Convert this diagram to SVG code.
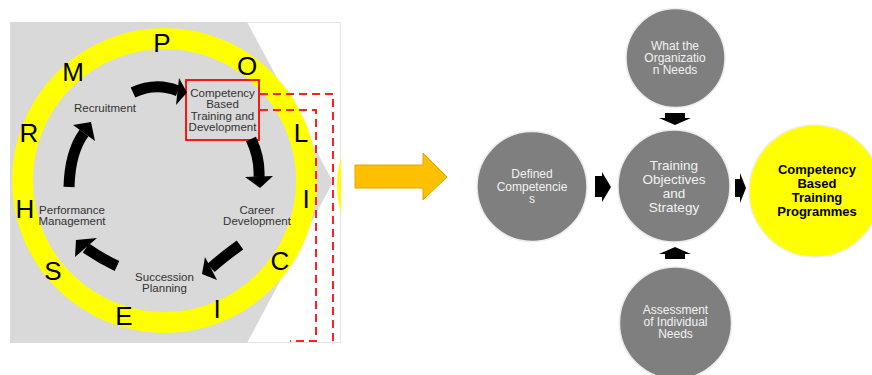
<svg xmlns="http://www.w3.org/2000/svg" width="872" height="375" viewBox="0 0 872 375">
  <defs>
    <style>
      .lbl{font-family:"Liberation Sans",Arial,sans-serif;font-size:11.5px;fill:#333;text-anchor:middle}
      .ltr{font-family:"Liberation Sans",Arial,sans-serif;font-size:26px;fill:#000;text-anchor:middle}
      .shaft{fill:none;stroke:#000;stroke-width:11}
      .head{fill:#000}
      .gc{fill:#7f7f7f;stroke:#ececec;stroke-width:1.5}
      .wt{font-family:"Liberation Sans",Arial,sans-serif;fill:#f2f2f2;text-anchor:middle}
      .bt{font-family:"Liberation Sans",Arial,sans-serif;font-weight:bold;font-size:13px;fill:#000;text-anchor:middle}
      .dash{fill:none;stroke:#ff2020;stroke-width:2;stroke-dasharray:8 5}
      .blk{fill:#000}
    </style>
    <clipPath id="panelClip"><rect x="10" y="22" width="331" height="321"/></clipPath>
  </defs>

  <rect width="872" height="375" fill="#fff"/>

  <!-- left panel: HR policy cycle -->
  <g id="policy-panel">
    <rect x="10.5" y="22.5" width="330" height="320" fill="#fff" stroke="#e4e4e4"/>
    <polygon points="10,22 247,22 333,182 247,343 10,343" fill="#d9d9d9"/>
    <g clip-path="url(#panelClip)"><circle cx="437" cy="185" r="100" fill="#ffff00"/></g>
    <circle cx="164.5" cy="180.5" r="142" fill="#d9d9d9" stroke="#ffff00" stroke-width="21"/>
    <g id="ring-letters">
      <text class="ltr" x="162" y="52">P</text>
      <text class="ltr" x="247" y="75">O</text>
      <text class="ltr" x="301" y="142">L</text>
      <text class="ltr" x="306" y="208">I</text>
      <text class="ltr" x="280" y="270">C</text>
      <text class="ltr" x="217" y="318">I</text>
      <text class="ltr" x="124" y="325">E</text>
      <text class="ltr" x="53" y="280">S</text>
      <text class="ltr" x="25" y="218">H</text>
      <text class="ltr" x="29" y="142">R</text>
      <text class="ltr" x="73" y="81">M</text>
    </g>
  </g>

  <g id="node-recruitment"><text class="lbl" x="105" y="112">Recruitment</text></g>
  <g id="node-cbtd">
    <rect x="186" y="80" width="73" height="60" fill="none" stroke="#ff0000" stroke-width="1.8"/>
    <text class="lbl" x="222.5" y="97">Competency</text>
    <text class="lbl" x="222.5" y="108">Based</text>
    <text class="lbl" x="222.5" y="119.5">Training and</text>
    <text class="lbl" x="222.5" y="131">Development</text>
  </g>
  <g id="node-career">
    <text class="lbl" x="257" y="214">Career</text>
    <text class="lbl" x="257" y="225">Development</text>
  </g>
  <g id="node-succession">
    <text class="lbl" x="164.5" y="281">Succession</text>
    <text class="lbl" x="164.5" y="292">Planning</text>
  </g>
  <g id="node-performance">
    <text class="lbl" x="72" y="214">Performance</text>
    <text class="lbl" x="72" y="225">Management</text>
  </g>

  <!-- cycle arrows and callout lines -->
  <g id="cycle-connectors">
    <path class="shaft" d="M133,92.5 Q156,82 178,91"/>
    <polygon class="head" points="179,78 187,92.5 176,105"/>
    <path class="shaft" d="M251,139 Q260,158 259,177"/>
    <polygon class="head" points="245,177 273,176 260,188"/>
    <path class="shaft" d="M240,245 Q222,258 211,268"/>
    <polygon class="head" points="205,257 217,280 202,274"/>
    <path class="shaft" d="M117,266 Q100,258 86,248"/>
    <polygon class="head" points="97,238 75,257 76,240"/>
    <path class="shaft" d="M69,187 Q70,152 84,133"/>
    <polygon class="head" points="73,125 95,141 91,122"/>
    <path class="dash" d="M260,94 H333 V342"/>
    <path class="dash" d="M260,110 H316 V341 H290"/>
  </g>

  <!-- transition arrow -->
  <g id="transition-arrow">
    <polygon points="355,165 423,165 423,153 447,177 423,200 423,188 355,188" fill="#ffc000" stroke="#e0a600" stroke-width="1"/>
  </g>

  <!-- right panel: training programme design -->
  <g id="node-org-needs">
    <circle class="gc" cx="675.5" cy="58" r="49.5"/>
    <text class="wt" font-size="12" x="675" y="49.5">What the</text>
    <text class="wt" font-size="12" x="675" y="61.5">Organizatio</text>
    <text class="wt" font-size="12" x="675" y="74">n Needs</text>
  </g>
  <g id="node-objectives">
    <circle class="gc" cx="674" cy="186" r="56"/>
    <text class="wt" font-size="13.5" x="674" y="170">Training</text>
    <text class="wt" font-size="13.5" x="674" y="184">Objectives</text>
    <text class="wt" font-size="13.5" x="674" y="198">and</text>
    <text class="wt" font-size="13.5" x="674" y="212">Strategy</text>
  </g>
  <g id="node-defined">
    <circle class="gc" cx="532" cy="186.5" r="55"/>
    <text class="wt" font-size="12" x="532" y="178">Defined</text>
    <text class="wt" font-size="12" x="532" y="191">Competencie</text>
    <text class="wt" font-size="12" x="532" y="203">s</text>
  </g>
  <g id="node-assessment">
    <circle class="gc" cx="675.5" cy="323" r="56"/>
    <text class="wt" font-size="12" x="675.5" y="314">Assessment</text>
    <text class="wt" font-size="12" x="675.5" y="326">of Individual</text>
    <text class="wt" font-size="12" x="675.5" y="338">Needs</text>
  </g>
  <g id="node-programmes">
    <circle cx="815" cy="191" r="66" fill="#ffff00" stroke="#eeeeee" stroke-width="1.5"/>
    <text class="bt" x="817" y="174">Competency</text>
    <text class="bt" x="817" y="188">Based</text>
    <text class="bt" x="817" y="202">Training</text>
    <text class="bt" x="817" y="216">Programmes</text>
  </g>

  <g id="design-connectors">
    <polygon class="blk" points="665,113 685,113 685,118 691,118 675,125 659,118 665,118"/>
    <polygon class="blk" points="675,247 691,254 685,254 685,259 665,259 665,254 659,254"/>
    <polygon class="blk" points="595,176 602,176 602,172 611,187 602,202 602,197 595,197"/>
    <polygon class="blk" points="735,179 740,179 740,173 746,188 740,203 740,197 735,197"/>
  </g>
</svg>
